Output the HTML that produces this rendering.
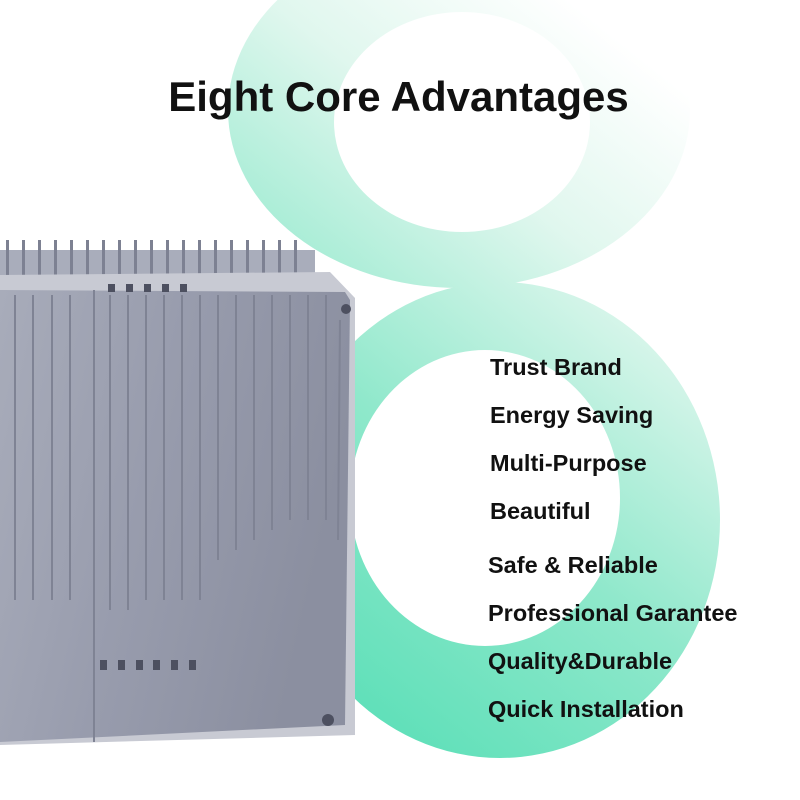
<!DOCTYPE html>
<html><head><style>
body{margin:0;width:800px;height:800px;background:#fff;position:relative;overflow:hidden;font-family:"Liberation Sans",sans-serif}
.t{position:absolute;font-weight:bold;color:#111;white-space:nowrap}
.li{position:absolute;left:490px;font-size:23.5px;font-weight:bold;color:#111;white-space:nowrap;letter-spacing:0px}
</style></head><body>
<svg width="800" height="800" style="position:absolute;left:0;top:0">
<defs>
<linearGradient id="g" gradientUnits="userSpaceOnUse" x1="260" y1="700" x2="720" y2="120">
<stop offset="0" stop-color="#55deb5"/>
<stop offset="0.4" stop-color="#8fe8cb"/>
<stop offset="0.75" stop-color="#e0f7ee"/>
<stop offset="1" stop-color="#ffffff"/>
</linearGradient>
<linearGradient id="b" x1="0" y1="0" x2="1" y2="0.3">
<stop offset="0" stop-color="#a8acba"/>
<stop offset="0.5" stop-color="#989cad"/>
<stop offset="1" stop-color="#8b8fa0"/>
</linearGradient>
</defs>
<path fill="url(#g)" fill-rule="evenodd" d="
M228,110 a231,178 0 1,0 462,0 a231,178 0 1,0 -462,0 Z
M334,122 a128,110 0 1,0 256,0 a128,110 0 1,0 -256,0 Z"/>
<path fill="url(#g)" fill-rule="evenodd" d="
M280,520 a220,238 0 1,0 440,0 a220,238 0 1,0 -440,0 Z
M350,498 a135,148 0 1,0 270,0 a135,148 0 1,0 -270,0 Z"/>
<g fill="#a9adbb">
<rect x="0" y="250" width="315" height="30"/>
</g>
<g fill="#7d8192">
<rect x="6" y="240" width="3" height="35"/><rect x="22" y="240" width="3" height="35"/><rect x="38" y="240" width="3" height="35"/><rect x="54" y="240" width="3" height="35"/><rect x="70" y="240" width="3" height="35"/><rect x="86" y="240" width="3" height="35"/><rect x="102" y="240" width="3" height="35"/><rect x="118" y="240" width="3" height="35"/><rect x="134" y="240" width="3" height="35"/><rect x="150" y="240" width="3" height="35"/><rect x="166" y="240" width="3" height="35"/><rect x="182" y="240" width="3" height="35"/><rect x="198" y="240" width="3" height="35"/><rect x="214" y="240" width="3" height="35"/><rect x="230" y="240" width="3" height="35"/><rect x="246" y="240" width="3" height="35"/><rect x="262" y="240" width="3" height="35"/><rect x="278" y="240" width="3" height="35"/><rect x="294" y="240" width="3" height="35"/>
</g>
<path d="M0,275 L330,272 L355,298 L355,735 L0,745 Z" fill="#c8cad3"/>
<path d="M0,290 L345,292 L350,300 L345,725 L0,742 Z" fill="url(#b)"/>
<g stroke="#7f8394" stroke-width="2">
<line x1="15" y1="295" x2="15" y2="600"/><line x1="33" y1="295" x2="33" y2="600"/><line x1="52" y1="295" x2="52" y2="600"/><line x1="70" y1="295" x2="70" y2="600"/><line x1="94" y1="290" x2="94" y2="742"/>
<line x1="110" y1="295" x2="110" y2="610"/><line x1="128" y1="295" x2="128" y2="610"/><line x1="146" y1="295" x2="146" y2="600"/><line x1="164" y1="295" x2="164" y2="600"/><line x1="182" y1="295" x2="182" y2="600"/><line x1="200" y1="295" x2="200" y2="600"/><line x1="218" y1="295" x2="218" y2="560"/><line x1="236" y1="295" x2="236" y2="550"/><line x1="254" y1="295" x2="254" y2="540"/><line x1="272" y1="295" x2="272" y2="530"/><line x1="290" y1="295" x2="290" y2="520"/><line x1="308" y1="295" x2="308" y2="520"/><line x1="326" y1="295" x2="326" y2="520"/><line x1="340" y1="320" x2="338" y2="540"/>
</g>
<g fill="#4d5060">
<rect x="100" y="660" width="7" height="10"/><rect x="118" y="660" width="7" height="10"/><rect x="136" y="660" width="7" height="10"/><rect x="153" y="660" width="7" height="10"/><rect x="171" y="660" width="7" height="10"/><rect x="189" y="660" width="7" height="10"/>
<rect x="108" y="284" width="7" height="8"/><rect x="126" y="284" width="7" height="8"/><rect x="144" y="284" width="7" height="8"/><rect x="162" y="284" width="7" height="8"/><rect x="180" y="284" width="7" height="8"/>
<circle cx="328" cy="720" r="6"/><circle cx="346" cy="309" r="5"/>
</g>
</svg>
<div class="t" style="left:0;width:797px;text-align:center;top:73px;font-size:42px">Eight Core Advantages</div>
<div class="li" style="top:354px">Trust Brand</div>
<div class="li" style="top:402px">Energy Saving</div>
<div class="li" style="top:450px">Multi-Purpose</div>
<div class="li" style="top:498px">Beautiful</div>
<div class="li" style="left:488px;top:552px">Safe &amp; Reliable</div>
<div class="li" style="left:488px;top:600px">Professional Garantee</div>
<div class="li" style="left:488px;top:648px">Quality&amp;Durable</div>
<div class="li" style="left:488px;top:696px">Quick Installation</div>
</body></html>
